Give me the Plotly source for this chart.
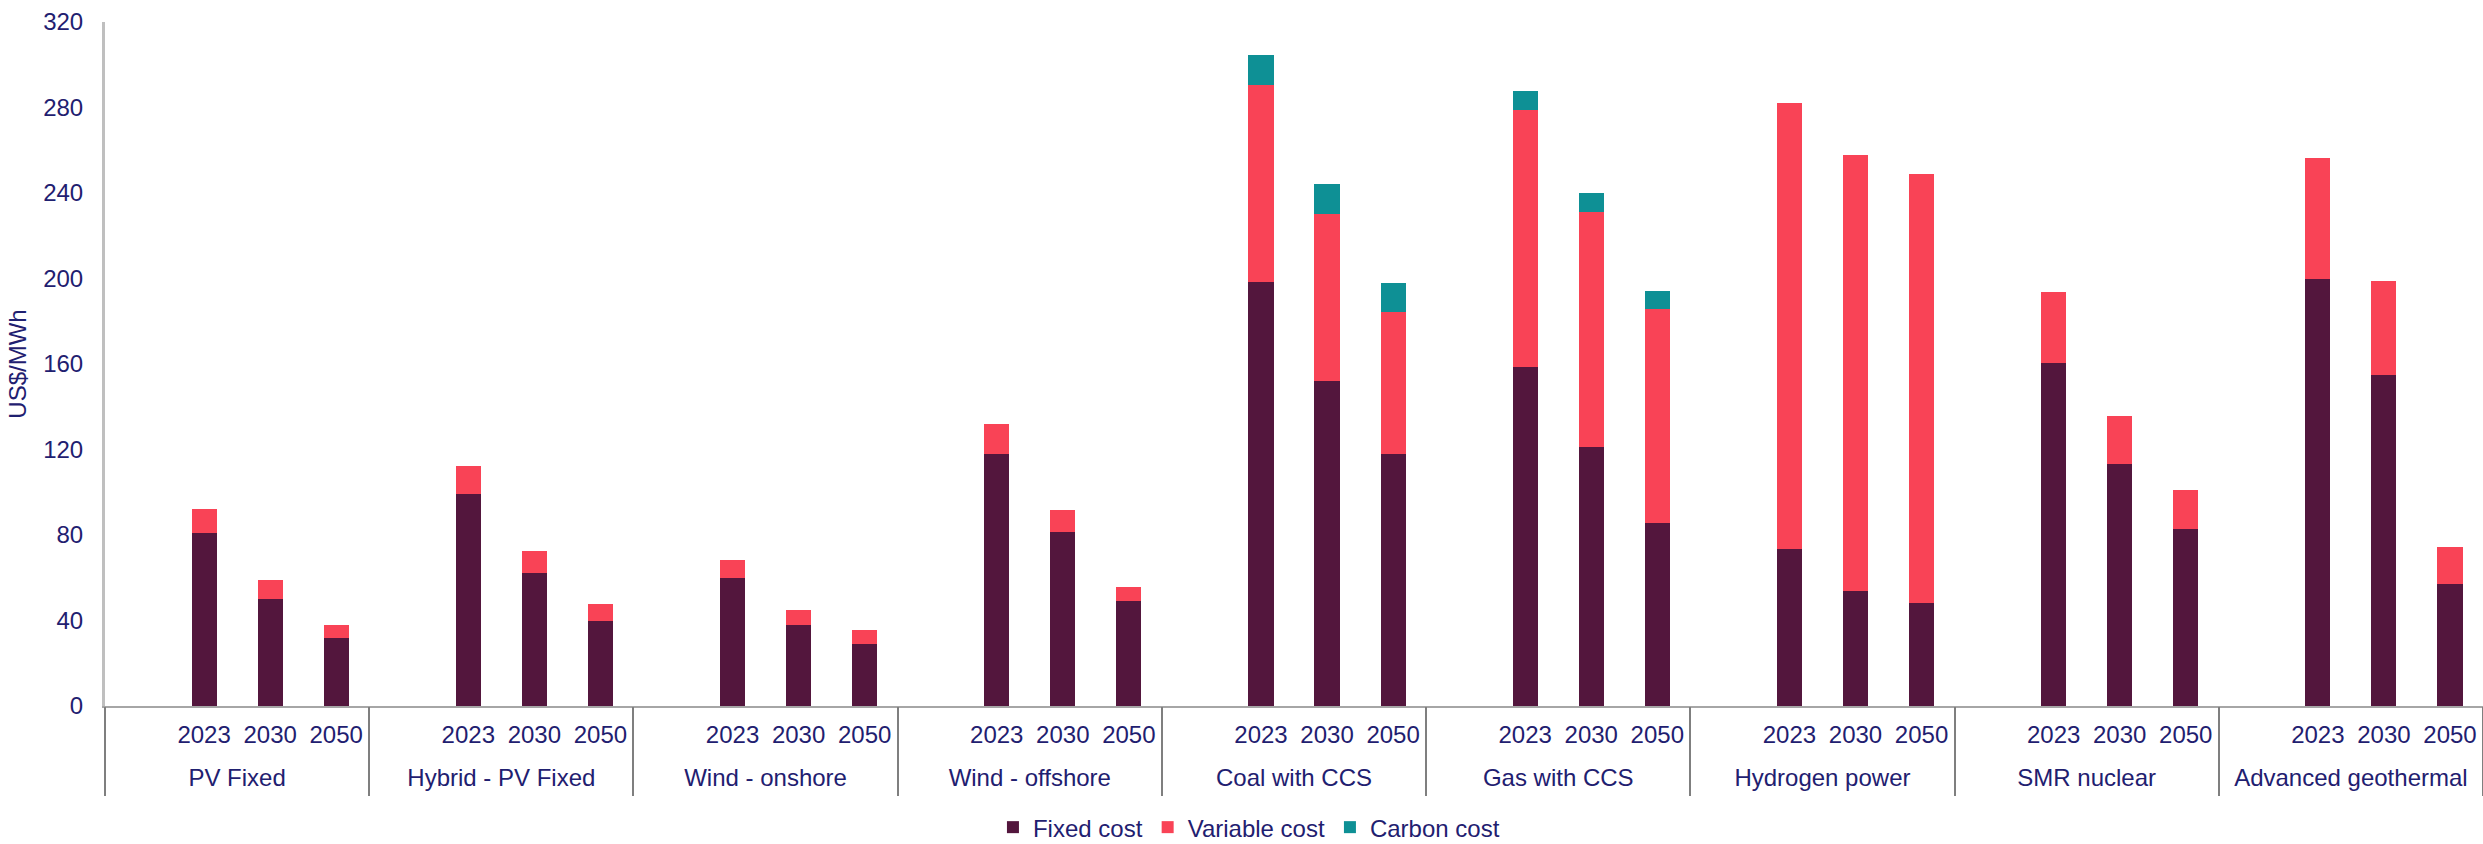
import plotly.graph_objects as go

# Technology groups and the years shown for each
groups = ["PV Fixed", "Hybrid - PV Fixed", "Wind - onshore", "Wind - offshore",
          "Coal with CCS", "Gas with CCS", "Hydrogen power", "SMR nuclear",
          "Advanced geothermal"]
years = ["2023", "2030", "2050"]

# Levelised cost components, US$/MWh (group-major, years in order)
fixed_cost = [81, 50, 32,
              99, 62, 40,
              60, 38, 29,
              118, 81.5, 49,
              198.5, 152, 118,
              158.5, 121, 85.5,
              73.5, 54, 48,
              160.5, 113, 83,
              200, 155, 57]
variable_cost = [11, 9, 6,
                 13.5, 10.5, 7.5,
                 8.5, 7, 6.5,
                 14, 10, 6.5,
                 92, 78, 66.5,
                 120.5, 110, 100,
                 208.5, 204, 201,
                 33, 22.5, 18,
                 56.5, 44, 17.5]
carbon_cost = [None, None, None,
               None, None, None,
               None, None, None,
               None, None, None,
               14, 14, 13.5,
               8.5, 9, 8.5,
               None, None, None,
               None, None, None,
               None, None, None]

series_names = ["Fixed cost", "Variable cost", "Carbon cost"]
series_colors = ["#53163D", "#F94356", "#0E9095"]

TEXT = "#1F2070"
FONT = "Liberation Sans, Arial, sans-serif"

# One category slot per (group, year), plus an empty leading slot per group
slot_ids, slot_text = [], []
for g in groups:
    slot_ids.append(g + "|")
    slot_text.append("")
    for yr in years:
        slot_ids.append(g + "|" + yr)
        slot_text.append(yr)


def with_spacers(vals):
    out = []
    for i in range(len(groups)):
        out.append(None)
        out.extend(vals[3 * i:3 * i + 3])
    return out


fig = go.Figure()
for name, vals, col in zip(series_names, [fixed_cost, variable_cost, carbon_cost], series_colors):
    fig.add_trace(go.Bar(
        x=slot_ids,
        y=with_spacers(vals),
        name=name,
        marker=dict(color=col, line=dict(width=0)),
    ))

n_groups = len(groups)
group_centres = [i + 0.5 for i in range(n_groups)]
group_edges = list(range(n_groups + 1))

# Empty carriers so the group-label axis and the divider axis get drawn
fig.add_trace(go.Scatter(x=group_centres, y=[None] * n_groups, xaxis="x2", yaxis="y",
                         mode="markers", showlegend=False, hoverinfo="skip"))
fig.add_trace(go.Scatter(x=group_edges, y=[None] * len(group_edges), xaxis="x3", yaxis="y",
                         mode="markers", showlegend=False, hoverinfo="skip"))

fig.update_layout(
    width=2483, height=844,
    margin=dict(l=105, r=0, t=22, b=138),
    barmode="stack",
    bargap=0.62,
    plot_bgcolor="white",
    paper_bgcolor="white",
    font=dict(family=FONT, size=24, color=TEXT),
    showlegend=True,
    legend=dict(orientation="h", xref="container", yref="container",
                x=0.503, xanchor="center", y=0.0195, yanchor="middle",
                font=dict(size=24, color=TEXT), traceorder="normal"),
    # year labels under each bar
    xaxis=dict(
        type="category", tickmode="array", tickvals=slot_ids, ticktext=slot_text,
        showgrid=False, zeroline=False, showline=True, linecolor="#A6A6A6", linewidth=2,
        ticks="", ticklabelstandoff=6, tickfont=dict(size=24, color=TEXT),
    ),
    # group names, centred under each block of slots
    xaxis2=dict(
        overlaying="x", anchor="y", side="bottom", range=[0, n_groups],
        tickmode="array", tickvals=group_centres, ticktext=groups,
        showgrid=False, zeroline=False, showline=False,
        ticks="", ticklabelstandoff=55, tickfont=dict(size=24, color=TEXT),
    ),
    # divider lines between groups
    xaxis3=dict(
        overlaying="x", anchor="y", side="bottom", range=[0, n_groups],
        tickmode="array", tickvals=group_edges,
        showgrid=False, zeroline=False, showline=False, showticklabels=False,
        ticks="outside", ticklen=89, tickwidth=2, tickcolor="#7F7F7F",
    ),
)
fig.update_yaxes(
    range=[0, 320], dtick=40, showgrid=False, zeroline=False,
    showline=True, linecolor="#BFBFBF", linewidth=3,
    ticks="", ticklabelstandoff=14,
    tickfont=dict(size=24, color=TEXT),
    title=dict(text="US$/MWh", font=dict(size=24, color=TEXT), standoff=10),
)

fig.write_html("out.html")
